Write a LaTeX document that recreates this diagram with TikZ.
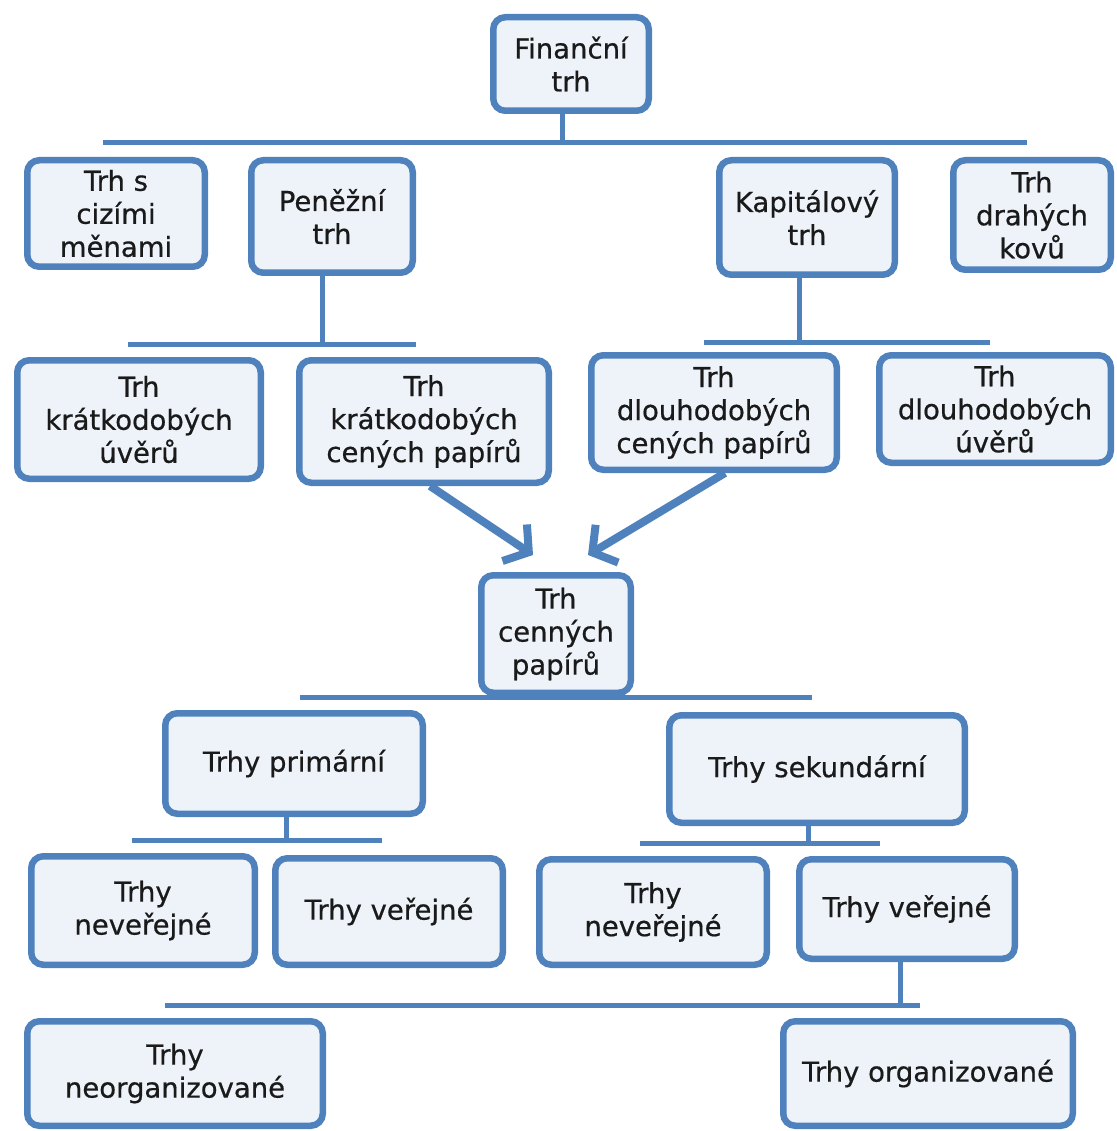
\documentclass[tikz,border=0pt]{standalone}
\usepackage{fontspec}
\setmainfont{DejaVu Sans}
\newfontfamily\boxfont[FakeBold=0.6]{DejaVu Sans}
\usetikzlibrary{arrows.meta}
\definecolor{bord}{HTML}{4F81BD}
\definecolor{boxfill}{HTML}{EEF3FA}
\definecolor{txt}{HTML}{1A1A1A}
\tikzset{
  box/.style={draw=bord, line width=6.5pt, fill=boxfill, rounded corners=12pt,
    align=center, text=txt, inner sep=0pt,
    font=\boxfont\fontsize{27.5}{33}\selectfont},
  bar/.style={draw=bord, line width=5pt},
  bigarrow/.style={draw=bord, line width=8pt,
    -{Straight Barb[length=17pt,width=44pt,line width=8pt]}}
}
\newcommand{\bx}[6]{% name, x1, y1, x2, y2, text
  \pgfmathsetmacro{\cxx}{(#2+#4)/2}\pgfmathsetmacro{\cyy}{-(#3+#5)/2}%
  \pgfmathsetmacro{\ww}{#4-#2-6.5}\pgfmathsetmacro{\hh}{#5-#3-6.5}%
  \node[box, minimum width=\ww pt, minimum height=\hh pt] (#1) at (\cxx pt,\cyy pt) {#6};}
\begin{document}
\begin{tikzpicture}[x=1pt,y=-1pt]
\useasboundingbox (0,0) rectangle (1116,1131);
% bars and coordinates
\coordinate (b1l) at (103,143); \coordinate (b1r) at (1027,143);
\coordinate (b2l) at (128,344); \coordinate (b2r) at (416,344);
\coordinate (b3l) at (704,342); \coordinate (b3r) at (990,342);
\coordinate (b4l) at (300,697); \coordinate (b4r) at (812,697);
\coordinate (b5l) at (132,840); \coordinate (b5r) at (382,840);
\coordinate (b6l) at (640,843); \coordinate (b6r) at (880,843);
\coordinate (b7l) at (165,1005); \coordinate (b7r) at (920,1005);
\draw[bar] (b1l) -- (b1r);
\draw[bar] (b2l) -- (b2r);
\draw[bar] (b3l) -- (b3r);
\draw[bar] (b4l) -- (b4r);
\draw[bar] (b5l) -- (b5r);
\draw[bar] (b6l) -- (b6r);
\draw[bar] (b7l) -- (b7r);
% boxes
\bx{fin}{490}{14}{652}{114}{Finanční\\trh}
\bx{ciz}{24}{157}{208}{270}{Trh s\\cizími\\měnami}
\bx{pen}{248}{157}{416}{276}{Peněžní\\trh}
\bx{kap}{716}{157}{898}{278}{Kapitálový\\trh}
\bx{dra}{950}{157}{1114}{273}{Trh\\drahých\\kovů}
\bx{kuv}{14}{357}{264}{482}{Trh\\krátkodobých\\úvěrů}
\bx{kcp}{296}{357}{552}{486}{Trh\\krátkodobých\\cených papírů}
\bx{dcp}{588}{352}{840}{473}{Trh\\dlouhodobých\\cených papírů}
\bx{duv}{876}{352}{1114}{466}{Trh\\dlouhodobých\\úvěrů}
\bx{cen}{478}{572}{634}{696}{Trh\\cenných\\papírů}
\bx{pri}{162}{710}{426}{817}{Trhy primární}
\bx{sek}{666}{712}{968}{826}{Trhy sekundární}
\bx{nvl}{28}{853}{258}{968}{Trhy\\neveřejné}
\bx{vel}{272}{855}{506}{968}{Trhy veřejné}
\bx{nvr}{536}{856}{770}{968}{Trhy\\neveřejné}
\bx{ver}{796}{856}{1018}{962}{Trhy veřejné}
\bx{neo}{24}{1018}{326}{1129}{Trhy\\neorganizované}
\bx{org}{780}{1018}{1076}{1129}{Trhy organizované}
% stems
\draw[bar] ([xshift=-9pt]fin.south) -- ([xshift=-9pt]fin.south |- b1l);
\draw[bar] ([xshift=-10pt]pen.south) -- ([xshift=-10pt]pen.south |- b2l);
\draw[bar] ([xshift=-8pt]kap.south) -- ([xshift=-8pt]kap.south |- b3l);
\draw[bar] ([xshift=-8pt]pri.south) -- ([xshift=-8pt]pri.south |- b5l);
\draw[bar] ([xshift=-9pt]sek.south) -- ([xshift=-9pt]sek.south |- b6l);
\draw[bar] ([xshift=-7pt]ver.south) -- ([xshift=-7pt]ver.south |- b7l);
% arrows
\draw[bigarrow] ([xshift=6pt]kcp.south) -- ([xshift=-23pt,yshift=17pt]cen.north);
\draw[bigarrow] ([xshift=11pt]dcp.south) -- ([xshift=32pt,yshift=17pt]cen.north);
\end{tikzpicture}
\end{document}
